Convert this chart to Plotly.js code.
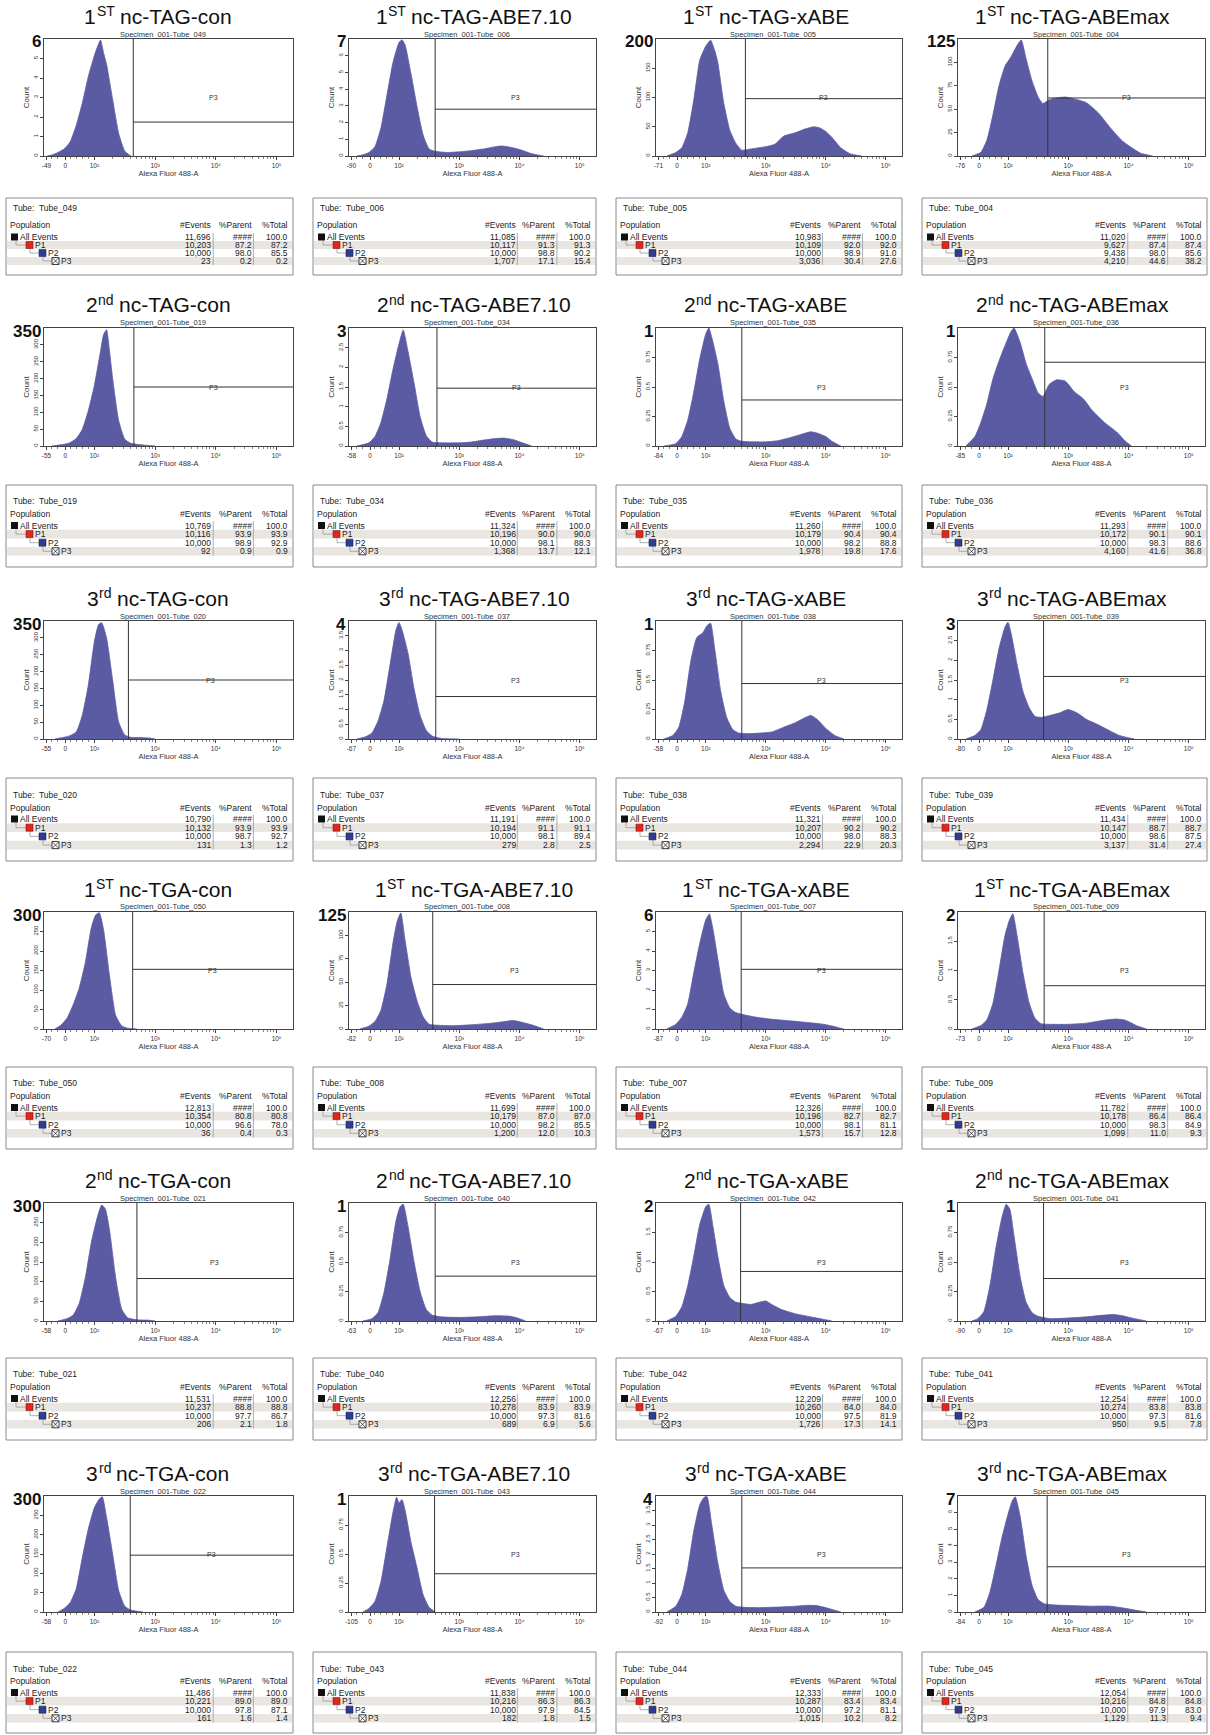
<!DOCTYPE html>
<html><head><meta charset="utf-8">
<script src="https://cdn.plot.ly/plotly-3.0.1.min.js"></script>
<style>html,body{margin:0;padding:0;background:#fff}#chart{width:1210px;height:1735px}</style>
</head><body><div id="chart"></div>
<script>
// ---------------- DATA ----------------
const rowOrdNum = ['1','2','3','1','2','3'];
const rowOrdSup = ['ST','nd','rd','ST','nd','rd'];
const rowTargets = ['TAG','TAG','TAG','TGA','TGA','TGA'];
const editors = ['con','ABE7.10','xABE','ABEmax'];
const tubeIds = ['049','006','005','004','019','034','035','036','020','037','038','039','050','008','007','009','021','040','042','041','022','043','044','045'];
const yMax = [6,7,200,125, 350,3,1,1, 350,4,1,3, 300,125,6,2, 300,1,2,1, 300,1,4,7];
const yStep = [1,1,50,25, 50,0.5,0.25,0.25, 50,0.5,0.25,0.5, 50,25,1,0.5, 50,0.25,0.5,0.25, 50,0.25,0.5,1];
const xMinLabels = ['-49','-90','-71','-76','-55','-58','-84','-85','-55','-67','-58','-80','-70','-82','-87','-73','-58','-63','-67','-90','-58','-105','-92','-84'];
const xTickLabels = ['0','10\u00B2','10\u00B3','10\u2074','10\u2075'];
const gateX = [2.64,2.6,2.66,2.66, 2.65,2.63,2.6,2.61, 2.56,2.61,2.6,2.59, 2.63,2.56,2.59,2.6, 2.7,2.6,2.58,2.59, 2.59,2.59,2.6,2.65];
const gateLevel = [1.74,2.8,98,62, 175,1.47,0.39,0.71, 175,1.44,0.47,1.59, 153,47.5,3.06,0.74, 108,0.38,0.84,0.36, 147,0.33,1.52,2.73];

// table values
const evAll = [11696,11085,10983,11020, 10769,11324,11260,11293, 10790,11191,11321,11434, 12813,11699,12326,11782, 11531,12256,12209,12254, 11486,11838,12333,12054];
const evP1 = [10203,10117,10109,9627, 10116,10196,10179,10172, 10132,10194,10207,10147, 10354,10179,10196,10178, 10237,10278,10260,10274, 10221,10216,10287,10216];
const evP2 = [10000,10000,10000,9438, 10000,10000,10000,10000, 10000,10000,10000,10000, 10000,10000,10000,10000, 10000,10000,10000,10000, 10000,10000,10000,10000];
const evP3 = [23,1707,3036,4210, 92,1368,1978,4160, 131,279,2294,3137, 36,1200,1573,1099, 206,689,1726,950, 161,182,1015,1129];
const pctP1 = [87.2,91.3,92.0,87.4, 93.9,90.0,90.4,90.1, 93.9,91.1,90.2,88.7, 80.8,87.0,82.7,86.4, 88.8,83.9,84.0,83.8, 89.0,86.3,83.4,84.8];
const parP2 = [98.0,98.8,98.9,98.0, 98.9,98.1,98.2,98.3, 98.7,98.1,98.0,98.6, 96.6,98.2,98.1,98.3, 97.7,97.3,97.5,97.3, 97.8,97.9,97.2,97.9];
const totP2 = [85.5,90.2,91.0,85.6, 92.9,88.3,88.8,88.6, 92.7,89.4,88.3,87.5, 78.0,85.5,81.1,84.9, 86.7,81.6,81.9,81.6, 87.1,84.5,81.1,83.0];
const parP3 = [0.2,17.1,30.4,44.6, 0.9,13.7,19.8,41.6, 1.3,2.8,22.9,31.4, 0.4,12.0,15.7,11.0, 2.1,6.9,17.3,9.5, 1.6,1.8,10.2,11.3];
const totP3 = [0.2,15.4,27.6,38.2, 0.9,12.1,17.6,36.8, 1.2,2.5,20.3,27.4, 0.3,10.3,12.8,9.3, 1.8,5.6,14.1,7.8, 1.4,1.5,8.2,9.4];

// histogram samples (x in display decades, y in counts)
const h1x=[1.22,1.3,1.4,1.5,1.6,1.7,1.8,1.9,2.0,2.05,2.1,2.15,2.2,2.3,2.4,2.5,2.6];
const h1y=[0,0.05,0.18,0.36,0.72,1.56,2.7,4.08,5.16,5.6,5.95,5.3,4.7,2.9,1.15,0.25,0];
const h2x=[1.3,1.4,1.5,1.6,1.7,1.8,1.9,2.0,2.05,2.1,2.2,2.3,2.4,2.5,2.6,2.8,3.0,3.2,3.4,3.6,3.7,3.8,4.0,4.2,4.4];
const h2y=[0,0.07,0.21,0.56,1.68,3.64,5.6,6.79,6.95,6.65,4.9,2.94,1.26,0.42,0.28,0.21,0.25,0.32,0.42,0.56,0.6,0.56,0.39,0.14,0];
const h3x=[1.35,1.5,1.6,1.7,1.8,1.9,2.0,2.08,2.15,2.2,2.3,2.4,2.5,2.6,2.75,3.0,3.15,3.3,3.5,3.65,3.8,3.9,4.0,4.1,4.25,4.4,4.6];
const h3y=[0,6,14,40,96,164,188,198,180,160,90,44,22,10,12,16,20,34,40,46,50,48,42,32,14,4,0];
const h4x=[1.4,1.55,1.65,1.75,1.85,1.95,2.05,2.15,2.22,2.3,2.4,2.5,2.58,2.68,2.8,2.95,3.1,3.3,3.5,3.7,3.9,4.05,4.2,4.4];
const h4y=[0,4,17,44,75,96,106,118,124,104,80,63,56,60,62,63,61,57,46,30,16,9,3,0];
const h5x=[1.3,1.5,1.6,1.7,1.8,1.9,2.0,2.1,2.15,2.2,2.25,2.3,2.4,2.5,2.6,2.8,3.0];
const h5y=[0,5,10,22,49,105,180,280,330,345,280,200,75,20,8,3,0];
const h6x=[1.3,1.5,1.6,1.7,1.8,1.9,2.0,2.07,2.15,2.25,2.35,2.45,2.55,2.7,3.0,3.2,3.4,3.6,3.75,3.9,4.05,4.2];
const h6y=[0,0.08,0.24,0.6,1.2,1.95,2.6,2.95,2.4,1.6,0.75,0.27,0.1,0.08,0.08,0.1,0.15,0.19,0.2,0.16,0.08,0];
const h7x=[1.3,1.5,1.6,1.7,1.8,1.9,2.0,2.05,2.1,2.2,2.3,2.4,2.5,2.6,2.8,3.0,3.2,3.4,3.6,3.75,3.85,4.0,4.1,4.25];
const h7y=[0,0.02,0.08,0.22,0.46,0.74,0.95,1.0,0.92,0.7,0.38,0.15,0.06,0.04,0.035,0.035,0.045,0.07,0.1,0.12,0.11,0.08,0.04,0];
const h8x=[1.3,1.45,1.55,1.65,1.75,1.85,1.95,2.05,2.1,2.2,2.3,2.4,2.5,2.58,2.68,2.8,2.95,3.1,3.25,3.4,3.6,3.8,3.95,4.05];
const h8y=[0,0.08,0.2,0.36,0.57,0.72,0.85,0.97,1.0,0.88,0.7,0.57,0.45,0.42,0.52,0.56,0.55,0.46,0.4,0.3,0.2,0.12,0.04,0];
const h9x=[1.35,1.5,1.6,1.7,1.8,1.9,2.0,2.07,2.12,2.2,2.3,2.4,2.5,2.6,2.8,2.9,3.0];
const h9y=[0,5,10,21,70,160,290,340,345,300,175,50,12,5,4,3,0];
const h10x=[1.3,1.45,1.55,1.65,1.75,1.85,1.95,2.0,2.05,2.15,2.25,2.35,2.45,2.55,2.7,3.0];
const h10y=[0,0.08,0.2,0.6,1.3,2.5,3.7,3.95,3.7,2.9,1.7,0.8,0.3,0.1,0.02,0];
const h11x=[1.3,1.45,1.55,1.65,1.75,1.85,1.95,2.02,2.08,2.15,2.25,2.35,2.45,2.55,2.7,2.9,3.1,3.3,3.5,3.65,3.75,3.85,4.0,4.15,4.3];
const h11y=[0,0.03,0.1,0.32,0.66,0.86,0.9,0.96,0.98,0.76,0.4,0.18,0.08,0.05,0.045,0.05,0.06,0.1,0.14,0.18,0.2,0.17,0.09,0.03,0];
const h12x=[1.3,1.45,1.55,1.65,1.75,1.85,1.95,2.0,2.05,2.15,2.25,2.35,2.45,2.55,2.7,2.85,3.0,3.15,3.3,3.5,3.7,3.85,4.0,4.1];
const h12y=[0,0.09,0.24,0.75,1.5,2.3,2.85,2.97,2.7,1.9,1.2,0.8,0.57,0.55,0.6,0.66,0.75,0.66,0.5,0.36,0.2,0.09,0.03,0];
const h13x=[1.35,1.45,1.55,1.65,1.75,1.85,1.95,2.02,2.08,2.15,2.25,2.35,2.45,2.55,2.7];
const h13y=[0,10,28,62,105,170,260,292,298,255,135,35,8,2,0];
const h14x=[1.35,1.5,1.6,1.7,1.8,1.9,1.97,2.03,2.1,2.2,2.3,2.4,2.5,2.65,2.9,3.2,3.5,3.7,3.9,4.05,4.2,4.4];
const h14y=[0,3,8,20,48,92,115,124,95,55,30,13,5,4,3.5,4.5,6,7.5,9,7,4.5,0];
const h15x=[1.35,1.5,1.6,1.7,1.8,1.9,2.0,2.06,2.12,2.2,2.3,2.4,2.5,2.65,2.85,3.1,3.4,3.7,3.9,4.1,4.3];
const h15y=[0,0.24,0.6,1.3,2.9,4.4,5.6,5.9,5.1,3.6,1.8,1.08,0.84,0.72,0.6,0.5,0.42,0.33,0.27,0.16,0];
const h16x=[1.4,1.55,1.65,1.75,1.85,1.95,2.02,2.08,2.15,2.25,2.35,2.45,2.55,2.7,3.0,3.3,3.6,3.8,3.95,4.15,4.3];
const h16y=[0,0.06,0.16,0.44,1.0,1.6,1.85,1.97,1.6,0.95,0.45,0.18,0.09,0.08,0.08,0.1,0.15,0.17,0.15,0.05,0];
const h17x=[1.4,1.55,1.65,1.75,1.85,1.95,2.05,2.12,2.18,2.25,2.35,2.45,2.55,2.7,2.9,3.0];
const h17y=[0,6,15,45,110,200,265,295,285,230,110,30,8,3,2,0];
const h18x=[1.4,1.55,1.65,1.75,1.85,1.95,2.02,2.07,2.15,2.25,2.35,2.45,2.55,2.7,3.0,3.3,3.6,3.85,4.0,4.1];
const h18y=[0,0.02,0.07,0.24,0.52,0.85,0.97,0.99,0.8,0.5,0.25,0.1,0.05,0.035,0.03,0.035,0.045,0.04,0.02,0];
const h19x=[1.35,1.5,1.6,1.7,1.8,1.9,2.0,2.05,2.12,2.2,2.3,2.4,2.5,2.6,2.75,2.9,3.0,3.1,3.25,3.5,3.8,4.0,4.1];
const h19y=[0,0.08,0.24,0.6,1.1,1.64,1.94,1.98,1.6,1.1,0.6,0.4,0.32,0.3,0.28,0.32,0.34,0.28,0.2,0.12,0.06,0.02,0];
const h20x=[1.4,1.5,1.6,1.7,1.8,1.9,1.97,2.03,2.1,2.2,2.3,2.4,2.5,2.7,3.0,3.3,3.6,3.75,3.9,4.1,4.3];
const h20y=[0,0.02,0.08,0.3,0.62,0.88,0.99,0.95,0.72,0.38,0.16,0.07,0.04,0.02,0.025,0.035,0.05,0.055,0.045,0.02,0];
const h21x=[1.4,1.5,1.6,1.7,1.8,1.9,2.0,2.08,2.13,2.2,2.3,2.4,2.5,2.6,2.8];
const h21y=[0,9,24,60,140,215,270,292,298,245,150,55,15,5,0];
const h22x=[1.4,1.5,1.6,1.7,1.8,1.9,1.96,2.0,2.05,2.1,2.2,2.3,2.4,2.5,2.6];
const h22y=[0,0.03,0.09,0.26,0.56,0.86,0.99,0.94,0.97,0.88,0.6,0.38,0.15,0.04,0];
const h23x=[1.35,1.5,1.6,1.7,1.8,1.9,1.97,2.02,2.1,2.2,2.3,2.4,2.5,2.65,2.9,3.2,3.5,3.7,3.85,4.05,4.25];
const h23y=[0,0.2,0.6,1.5,2.8,3.7,3.95,3.98,3.0,1.7,0.75,0.36,0.2,0.16,0.15,0.17,0.2,0.23,0.22,0.12,0];
const h24x=[1.45,1.6,1.7,1.8,1.9,2.0,2.07,2.12,2.2,2.3,2.4,2.5,2.6,2.8,3.1,3.4,3.7,3.9,4.1,4.3];
const h24y=[0,0.28,1.2,2.8,4.5,5.9,6.7,6.95,5.8,3.4,1.6,0.75,0.5,0.42,0.38,0.35,0.35,0.25,0.12,0];

const histX=[h1x,h2x,h3x,h4x,h5x,h6x,h7x,h8x,h9x,h10x,h11x,h12x,h13x,h14x,h15x,h16x,h17x,h18x,h19x,h20x,h21x,h22x,h23x,h24x];
const histY=[h1y,h2y,h3y,h4y,h5y,h6y,h7y,h8y,h9y,h10y,h11y,h12y,h13y,h14y,h15y,h16y,h17y,h18y,h19y,h20y,h21y,h22y,h23y,h24y];

// ---------------- LAYOUT GEOMETRY (px) ----------------
const W = 1210, H = 1735;
const FONT_NAME = 'Liberation Sans';
const FONT = '"Liberation Sans", Arial, Helvetica, sans-serif';
const colL = [44, 349, 656, 958], colR = [293, 596, 902, 1205];
const tabL = [6, 313, 616, 922], tabR = [293, 596, 902, 1207];
const titleCX = [158, 474, 766, 1072];
const plotTop = [39, 328, 621, 912, 1203, 1496];
const plotBot = [156, 446, 739, 1029, 1321, 1612];
const tabGap = [42, 39, 39, 38, 37, 40];
const tabTube = [10, 16, 17, 16, 16, 17];
const tabHead = [27, 29, 30, 29, 29, 29];
const tabRow0 = [39, 40.5, 41, 40.5, 40.5, 40.5];
const tabPitch = [8, 8.6, 8.7, 8.6, 8.6, 8.6];
const tabH = [77, 82, 83, 82, 82, 81];
const X_RANGE = [1.17, 5.27];
const HIST_COLOR = '#5b5ba4';
const TITLE_SIZE = 21, SUP_SIZE = 14;

const P = x => x / W, Q = y => 1 - y / H;
const traces = [], annotations = [], shapes = [];
const layout = {
  width: W, height: H, margin: {l:0, r:0, t:0, b:0},
  paper_bgcolor: '#fff', plot_bgcolor: '#fff', showlegend: false,
  font: {family: FONT, color: '#222', size: 8}
};

const measureCtx = document.createElement('canvas').getContext('2d');
function textWidth(s, size) {
  measureCtx.font = size + 'px "' + FONT_NAME + '", Arial, sans-serif';
  return measureCtx.measureText(s).width;
}

function txt(x, y, text, size, xanchor, color, weight) {
  annotations.push({
    xref:'paper', yref:'paper', x:P(x), y:Q(y), text:text, showarrow:false,
    xanchor:xanchor || 'left', yanchor:'middle', borderpad:0, borderwidth:0,
    font:{family:FONT, size:size, color:color || '#222', weight: weight || 'normal'}
  });
}
function rect(x0, y0, x1, y1, fill, lineColor, lw) {
  shapes.push({type:'rect', xref:'paper', yref:'paper', x0:P(x0), x1:P(x1), y0:Q(y1), y1:Q(y0),
    fillcolor:fill, line:{color:lineColor || fill, width: lw || 0}, layer:'above'});
}
function seg(x0, y0, x1, y1, color, w) {
  shapes.push({type:'line', xref:'paper', yref:'paper', x0:P(x0), y0:Q(y0), x1:P(x1), y1:Q(y1),
    line:{color:color, width:w}, layer:'above'});
}

// minor tick positions on the log part of the axis
const minorX = [1.3, 1.4, 1.6, 1.7, 1.8, 1.9];
for (let d = 2; d <= 4; d++) for (let k = 2; k <= 9; k++) minorX.push(d + Math.log10(k));

const fmt1 = v => v.toFixed(1);
const fmtN = v => v.toLocaleString('en-US');

for (let i = 0; i < 24; i++) {
  const r = Math.floor(i / 4), c = i % 4;
  const n = i === 0 ? '' : String(i + 1);
  const xa = 'xaxis' + n, ya = 'yaxis' + n;
  const yt = [];
  for (let v = 0; v < yMax[i] - 1e-9; v += yStep[i]) yt.push(+v.toFixed(3));

  layout[xa] = {
    domain: [P(colL[c]), P(colR[c])], anchor: 'y' + n, range: X_RANGE,
    tickmode: 'array', tickvals: [1.21, 1.52, 2, 3, 4, 5],
    ticktext: [xMinLabels[i]].concat(xTickLabels),
    ticks: 'outside', ticklen: 3, tickwidth: 1, tickcolor: '#444',
    tickfont: {family: FONT, size: 6.5, color: '#333'},
    minor: {tickmode: 'array', tickvals: minorX, ticks: 'outside', ticklen: 2, tickcolor: '#666', tickwidth: 0.8},
    showline: true, mirror: true, linecolor: '#444', linewidth: 1,
    showgrid: false, zeroline: false, fixedrange: true,
    title: {text: 'Alexa Fluor 488-A', font: {family: FONT, size: 7.5, color: '#333'}, standoff: 0}
  };
  layout[ya] = {
    domain: [Q(plotBot[r]), Q(plotTop[r])], anchor: 'x' + n, range: [0, yMax[i]],
    tickmode: 'array', tickvals: yt, ticks: 'outside', ticklen: 3, tickwidth: 1, tickcolor: '#444',
    tickangle: -90, tickfont: {family: FONT, size: 6, color: '#333'},
    showline: true, mirror: true, linecolor: '#444', linewidth: 1,
    showgrid: false, zeroline: false, fixedrange: true,
    title: {text: 'Count', font: {family: FONT, size: 8, color: '#333'}, standoff: 1}
  };

  traces.push({
    type: 'scatter', x: histX[i], y: histY[i], xaxis: 'x' + n, yaxis: 'y' + n,
    mode: 'lines', line: {color: HIST_COLOR, width: 0.8, shape: 'spline', smoothing: 0.5},
    fill: 'tozeroy', fillcolor: HIST_COLOR, hoverinfo: 'skip', showlegend: false
  });

  // gate P3
  shapes.push({type:'line', xref:'x' + n, yref:'y' + n + ' domain', x0:gateX[i], x1:gateX[i], y0:0, y1:1,
    line:{color:'#333', width:1}, layer:'above'});
  shapes.push({type:'line', xref:'x' + n, yref:'y' + n, x0:gateX[i], x1:X_RANGE[1], y0:gateLevel[i], y1:gateLevel[i],
    line:{color:'#333', width:1}, layer:'above'});
  annotations.push({xref:'x' + n, yref:'y' + n + ' domain', x:(gateX[i] + X_RANGE[1]) / 2, y:0.5,
    text:'P3', showarrow:false, font:{family:FONT, size:7, color:'#333'}, xanchor:'center', yanchor:'middle'});

  // title: number + raised ordinal suffix + name, laid out from measured widths
  const tNum = rowOrdNum[r], tSup = rowOrdSup[r];
  const tName = 'nc-' + rowTargets[r] + '-' + editors[c];
  const wNum = textWidth(tNum, TITLE_SIZE), wSup = textWidth(tSup, SUP_SIZE);
  const wSp = textWidth(' ', TITLE_SIZE), wName = textWidth(tName, TITLE_SIZE);
  const tLeft = titleCX[c] - (wNum + wSup + wSp + wName) / 2;
  const tY = plotTop[r] - 23;
  txt(tLeft, tY, tNum, TITLE_SIZE, 'left', '#111');
  txt(tLeft + wNum + 0.5, tY - 5, tSup, SUP_SIZE, 'left', '#111');
  txt(tLeft + wNum + wSup + wSp, tY, tName, TITLE_SIZE, 'left', '#111');

  txt((colL[c] + colR[c]) / 2 - 6, plotTop[r] - 5, 'Specimen_001-Tube_' + tubeIds[i], 7.5, 'center', '#333');
  txt(colL[c] - 3, plotTop[r] + 3, String(yMax[i]), 17, 'right', '#111', 'bold');

  // ---------- table ----------
  const L = tabL[c], R = tabR[c], T = plotBot[r] + tabGap[r], w = R - L;
  const pr = tabPitch[r];
  const rowsY = [0, 1, 2, 3].map(k => T + tabRow0[r] + k * pr);
  const hp = pr / 2;
  rect(L + 1, rowsY[1] - hp, R - 1, rowsY[1] + hp, '#e9e6e1');
  rect(L + 1, rowsY[3] - hp, R - 1, rowsY[3] + hp, '#e9e6e1');
  rect(L, T, R, T + tabH[r], 'rgba(0,0,0,0)', '#8a8a8a', 1);
  const cE = L + 0.716 * w, cP = L + 0.856 * w, cT = L + 0.982 * w;
  seg(L + 0.722 * w, rowsY[0] - hp, L + 0.722 * w, rowsY[3] + hp, '#999', 0.8);
  seg(L + 0.862 * w, rowsY[0] - hp, L + 0.862 * w, rowsY[3] + hp, '#999', 0.8);
  txt(L + 7, T + tabTube[r], 'Tube:  Tube_' + tubeIds[i], 8.5, 'left');
  txt(L + 4, T + tabHead[r], 'Population', 8.5, 'left');
  txt(cE, T + tabHead[r], '#Events', 8.5, 'right');
  txt(cP, T + tabHead[r], '%Parent', 8.5, 'right');
  txt(cT, T + tabHead[r], '%Total', 8.5, 'right');
  // tree connectors
  const tc = '#9a9a9a';
  seg(L + 10, rowsY[0] + 3.5, L + 10, rowsY[1], tc, 0.8); seg(L + 10, rowsY[1], L + 20, rowsY[1], tc, 0.8);
  seg(L + 24, rowsY[1] + 3.5, L + 24, rowsY[2], tc, 0.8); seg(L + 24, rowsY[2], L + 33, rowsY[2], tc, 0.8);
  seg(L + 37, rowsY[2] + 3.5, L + 37, rowsY[3], tc, 0.8); seg(L + 37, rowsY[3], L + 46, rowsY[3], tc, 0.8);
  // population icons
  rect(L + 5, rowsY[0] - 3.5, L + 12, rowsY[0] + 3.5, '#111');
  rect(L + 20, rowsY[1] - 3.5, L + 27, rowsY[1] + 3.5, '#e3261c', '#7a1a14', 0.6);
  rect(L + 33, rowsY[2] - 3.5, L + 40, rowsY[2] + 3.5, '#2e3d8f', '#1a2255', 0.6);
  rect(L + 46, rowsY[3] - 3.5, L + 53, rowsY[3] + 3.5, '#fff', '#111', 0.8);
  seg(L + 46.5, rowsY[3] - 3, L + 52.5, rowsY[3] + 3, '#111', 0.7);
  seg(L + 46.5, rowsY[3] + 3, L + 52.5, rowsY[3] - 3, '#111', 0.7);
  txt(L + 13.5, rowsY[0], 'All Events', 8.5, 'left');
  txt(L + 28.5, rowsY[1], 'P1', 8.5, 'left');
  txt(L + 41.5, rowsY[2], 'P2', 8.5, 'left');
  txt(L + 55, rowsY[3], 'P3', 8.5, 'left');
  const rowVals = [
    [fmtN(evAll[i]), '####', fmt1(100)],
    [fmtN(evP1[i]), fmt1(pctP1[i]), fmt1(pctP1[i])],
    [fmtN(evP2[i]), fmt1(parP2[i]), fmt1(totP2[i])],
    [fmtN(evP3[i]), fmt1(parP3[i]), fmt1(totP3[i])]
  ];
  for (let k = 0; k < 4; k++) {
    txt(cE, rowsY[k], rowVals[k][0], 8.5, 'right');
    txt(cP, rowsY[k], rowVals[k][1], 8.5, 'right');
    txt(cT, rowsY[k], rowVals[k][2], 8.5, 'right');
  }
}

layout.annotations = annotations;
layout.shapes = shapes;
Plotly.newPlot('chart', traces, layout, {staticPlot: true, displayModeBar: false});
</script>
</body></html>
